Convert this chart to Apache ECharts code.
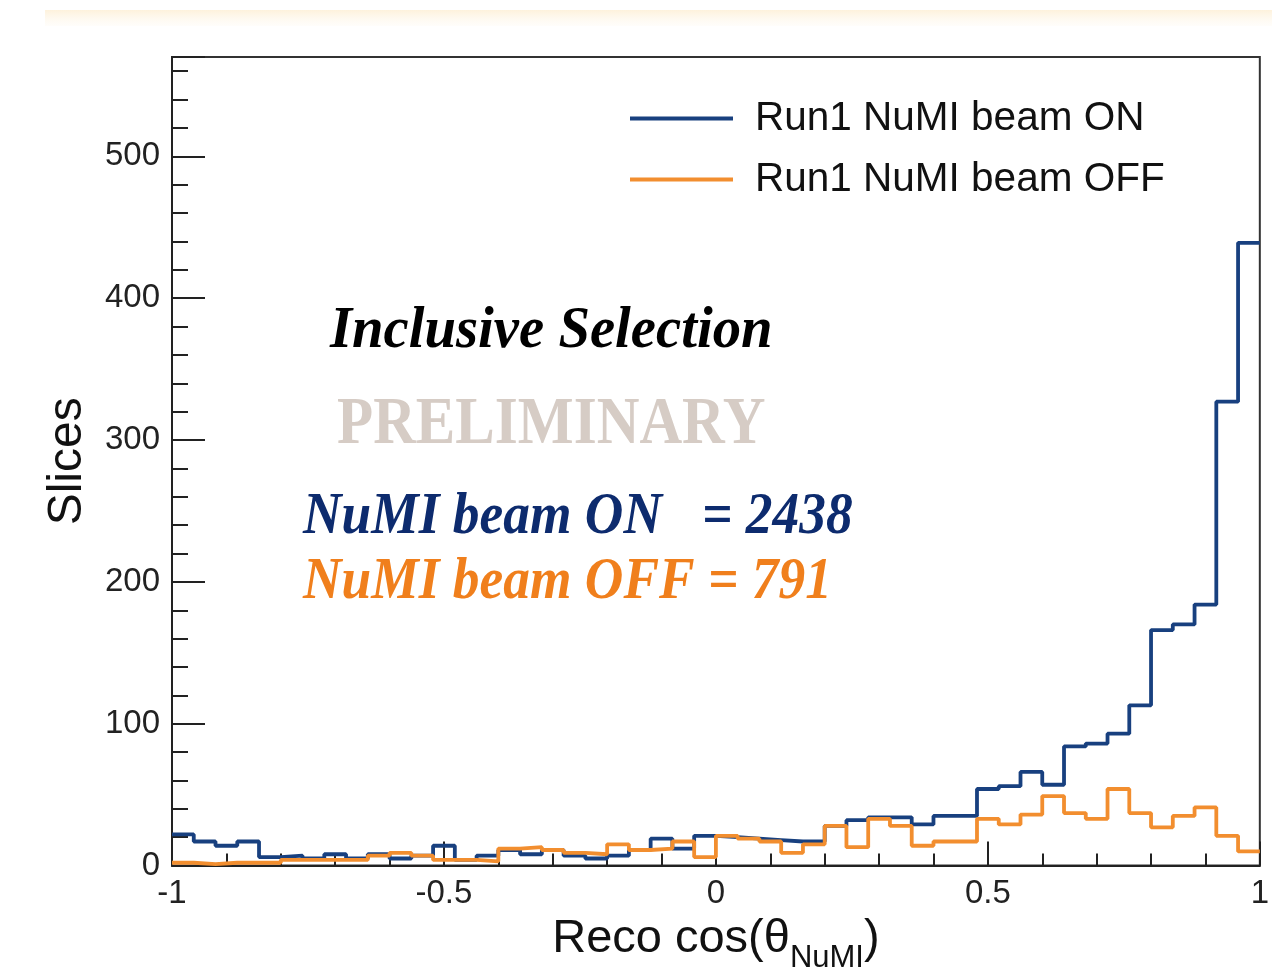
<!DOCTYPE html>
<html>
<head>
<meta charset="utf-8">
<script src="https://cdn.jsdelivr.net/npm/echarts@6/dist/echarts.min.js"></script>
<style>
  html, body { margin: 0; padding: 0; background: #ffffff; }
  #chart { width: 1272px; height: 979px; }
</style>
</head>
<body>
<div id="chart"></div>
<script>
// ---- Data ----
const binLow = -1;
const binWidth = 0.04;
const seriesNames = ['Run1 NuMI beam ON', 'Run1 NuMI beam OFF'];
const beamOn = [22, 17, 14, 17, 6, 7, 5, 8, 5, 8,
                5, 7, 14, 4, 7, 11, 8, 11, 7, 5,
                7, 11, 19, 12, 21, 20, 19, 18, 17, 17,
                28, 32, 34, 34, 29, 35, 35, 54, 56, 66,
                57, 84, 86, 93, 113, 166, 170, 184, 327, 439];
const beamOff = [2, 1, 2, 2, 2, 4, 4, 4, 4, 7,
                 9, 7, 4, 4, 3, 12, 13, 11, 9, 8,
                 15, 11, 12, 17, 6, 21, 19, 17, 9, 15,
                 28, 13, 33, 28, 14, 17, 17, 33, 29, 36,
                 49, 37, 33, 54, 37, 27, 35, 41, 21, 10];
const xRange = [-1, 1];
const yRange = [0, 570];
const textTitle = 'Inclusive Selection';
const textPrelim = 'PRELIMINARY';
const textOn = 'NuMI beam ON   = 2438';
const textOff = 'NuMI beam OFF = 791';

function toSteps(vals) {
  const pts = vals.map((v, i) => [+(binLow + i * binWidth).toFixed(4), v]);
  pts.push([+(binLow + vals.length * binWidth).toFixed(4), vals[vals.length - 1]]);
  return pts;
}

const blue = '#18407f';
const orange = '#f28e2f';
const axisColor = '#222';

const chart = echarts.init(document.getElementById('chart'), null, { renderer: 'canvas' });

const option = {
  animation: false,
  backgroundColor: '#ffffff',
  grid: {
    left: 172, right: 10, top: 57, bottom: 102,
    show: true, borderColor: '#333', borderWidth: 2, backgroundColor: '#ffffff'
  },
  legend: {
    data: seriesNames,
    orient: 'vertical',
    left: 630,
    top: 98,
    padding: 0,
    icon: 'rect',
    itemWidth: 103,
    itemHeight: 4,
    itemGap: 20,
    textStyle: { fontSize: 40.5, fontFamily: 'Liberation Sans', color: '#111', padding: [0, 0, 0, 17] }
  },
  xAxis: {
    type: 'value',
    min: xRange[0], max: xRange[1], interval: 0.5,
    name: '{m|Reco cos(θ}{s|NuMI}{m|)}',
    nameLocation: 'middle',
    nameGap: 36,
    nameTextStyle: {
      rich: {
        m: { fontSize: 47, fontFamily: 'Liberation Sans', color: '#111', lineHeight: 70, verticalAlign: 'middle' },
        s: { fontSize: 31, fontFamily: 'Liberation Sans', color: '#111', lineHeight: 31, verticalAlign: 'bottom' }
      }
    },
    axisLine: { show: true, onZero: false, lineStyle: { color: axisColor, width: 2 } },
    axisTick: { show: true, inside: true, length: 24, lineStyle: { color: axisColor, width: 2 } },
    minorTick: { show: true, splitNumber: 5, length: 12, lineStyle: { color: axisColor, width: 2 } },
    splitLine: { show: false },
    axisLabel: { fontSize: 33, fontFamily: 'Liberation Sans', color: '#222', margin: 12 }
  },
  yAxis: [
    {
      type: 'value', position: 'left',
      min: yRange[0], max: yRange[1], interval: 100,
      name: 'Slices', nameLocation: 'middle', nameGap: 80,
      nameTextStyle: { fontSize: 48, fontFamily: 'Liberation Sans', color: '#111' },
      axisLine: { show: true, onZero: false, lineStyle: { color: axisColor, width: 2 } },
      axisTick: { show: true, inside: true, length: 33, lineStyle: { color: axisColor, width: 2 } },
      splitLine: { show: false },
      axisLabel: {
        fontSize: 33, fontFamily: 'Liberation Sans', color: '#222', margin: 12,
        formatter: v => (v % 100 === 0 ? String(v) : '')
      }
    },
    {
      type: 'value', position: 'left',
      min: yRange[0], max: yRange[1], interval: 20,
      axisLine: { show: false, onZero: false },
      axisTick: { show: true, inside: true, length: 16, lineStyle: { color: axisColor, width: 2 } },
      splitLine: { show: false },
      axisLabel: { show: false }
    }
  ],
  series: [
    {
      name: seriesNames[0], type: 'line', step: 'end', yAxisIndex: 0,
      data: toSteps(beamOn), showSymbol: false, symbol: 'none',
      lineStyle: { color: blue, width: 3.8 }, itemStyle: { color: blue }
    },
    {
      name: seriesNames[1], type: 'line', step: 'end', yAxisIndex: 0,
      data: toSteps(beamOff), showSymbol: false, symbol: 'none',
      lineStyle: { color: orange, width: 3.8 }, itemStyle: { color: orange }
    }
  ],
  graphic: [
    {
      type: 'rect', left: 45, top: 10, silent: true, z: -10,
      shape: { width: 1227, height: 16 },
      style: { fill: new echarts.graphic.LinearGradient(0, 0, 0, 1, [
        { offset: 0, color: 'rgba(253,236,205,0.7)' },
        { offset: 1, color: 'rgba(253,246,232,0.2)' }
      ]) }
    },
    {
      type: 'text', x: 330, y: 331, scaleX: 0.945, z: 10,
      style: { text: textTitle, x: 0, y: 0, align: 'left', verticalAlign: 'middle',
               font: 'italic bold 60px "Liberation Serif"', fill: '#000000' }
    },
    {
      type: 'text', x: 337, y: 425, scaleX: 0.87, z: 10,
      style: { text: textPrelim, x: 0, y: 0, align: 'left', verticalAlign: 'middle',
               font: 'bold 68px "Liberation Serif"', fill: '#d6ccc5' }
    },
    {
      type: 'text', x: 303, y: 517, scaleX: 0.89, z: 10,
      style: { text: textOn, x: 0, y: 0, align: 'left', verticalAlign: 'middle',
               font: 'italic bold 60px "Liberation Serif"', fill: '#0d2b6e' }
    },
    {
      type: 'text', x: 303, y: 582, scaleX: 0.89, z: 10,
      style: { text: textOff, x: 0, y: 0, align: 'left', verticalAlign: 'middle',
               font: 'italic bold 60px "Liberation Serif"', fill: '#f07f1c' }
    }
  ]
};

chart.setOption(option);
</script>
</body>
</html>
